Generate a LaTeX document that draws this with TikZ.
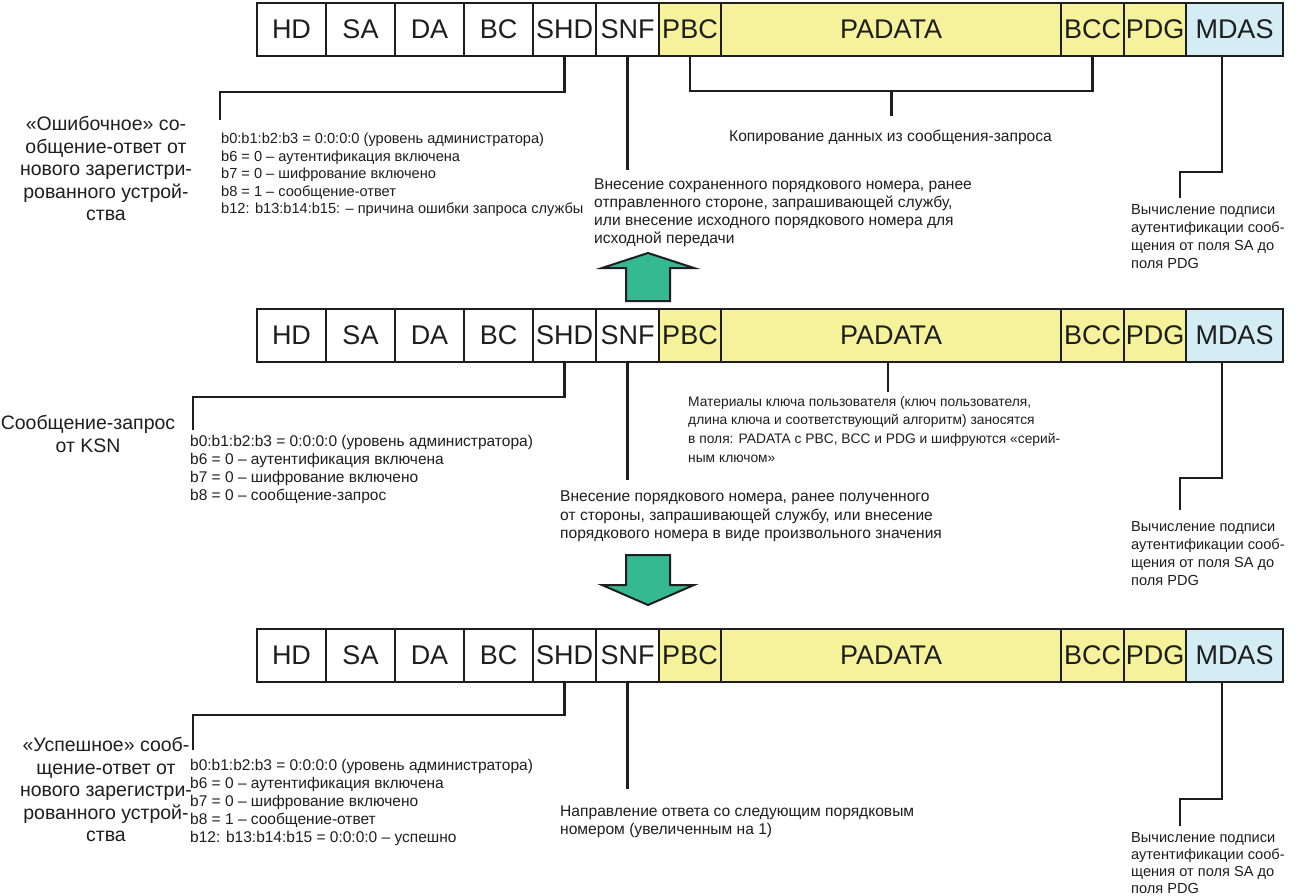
\documentclass[tikz,border=0pt]{standalone}
\usepackage{fontspec}
\setmainfont{Liberation Sans}
\usetikzlibrary{calc}
\definecolor{ink}{RGB}{30,30,30}
\definecolor{cellyellow}{RGB}{245,242,155}
\definecolor{cellblue}{RGB}{212,236,244}
\definecolor{arrowgreen}{RGB}{52,185,145}
\newcommand\msgrow[2]{%
  \node[cell, fill=white, minimum width=69] (#1HD) at (257,#2) {HD};
  \node[cell, fill=white, minimum width=69] (#1SA) at (326,#2) {SA};
  \node[cell, fill=white, minimum width=69] (#1DA) at (395,#2) {DA};
  \node[cell, fill=white, minimum width=69] (#1BC) at (464,#2) {BC};
  \node[cell, fill=white, minimum width=63] (#1SHD) at (533,#2) {SHD};
  \node[cell, fill=white, minimum width=63] (#1SNF) at (596,#2) {SNF};
  \node[cell, fill=cellyellow, minimum width=62] (#1PBC) at (659,#2) {PBC};
  \node[cell, fill=cellyellow, minimum width=340] (#1PADATA) at (721,#2) {PADATA};
  \node[cell, fill=cellyellow, minimum width=63] (#1BCC) at (1061,#2) {BCC};
  \node[cell, fill=cellyellow, minimum width=62] (#1PDG) at (1124,#2) {PDG};
  \node[cell, fill=cellblue, minimum width=97] (#1MDAS) at (1186,#2) {MDAS};
}
\begin{document}
\begin{tikzpicture}[x=1pt,y=-1pt,
  cell/.style={draw=ink, line width=2.8pt, minimum height=53, inner sep=0, outer sep=0, anchor=north west, font=\fontsize{27}{27}\selectfont, text=ink},
  conn/.style={draw=ink, line width=2.6pt},
  lbl/.style={align=center, inner sep=0, anchor=north, text=ink, font=\fontsize{19.5}{22.5}\selectfont},
  desc/.style={align=left, inner sep=0, anchor=north west, text=ink, font=\fontsize{15.6}{18}\selectfont},
  sig/.style={desc, font=\fontsize{14.6}{18}\selectfont},
  bits/.style={desc, font=\fontsize{15.5}{18}\selectfont},
  bigarrow/.style={fill=arrowgreen, draw=ink, line width=2pt, line join=miter}]
\useasboundingbox[fill=white] (0,0) rectangle (1296,896);

% ---------------- rows
\msgrow{a}{3}
\msgrow{b}{309}
\msgrow{c}{629}

% ---------------- row 1 texts
\node[lbl] (alabel) at (106,116) {«Ошибочное» со-\\общение-ответ от\\нового зарегистри-\\рованного устрой-\\ства};
\node[bits, font=\fontsize{14.6}{17.5}\selectfont] (abits) at (221,133) {b0:b1:b2:b3 = 0:0:0:0 (уровень администратора)\\b6 = 0 – аутентификация включена\\b7 = 0 – шифрование включено\\b8 = 1 – сообщение-ответ\\b12: b13:b14:b15: – причина ошибки запроса службы};
\node[desc] (acopy) at (729,130) {Копирование данных из сообщения-запроса};
\node[desc] (asnf) at (594,179) {Внесение сохраненного порядкового номера, ранее\\отправленного стороне, запрашивающей службу,\\или внесение исходного порядкового номера для\\исходной передачи};
\node[sig] (amdas) at (1131,204) {Вычисление подписи\\аутентификации сооб-\\щения от поля SA до\\поля PDG};

% ---------------- row 1 connectors
\coordinate (e1shd) at (220,120);
\draw[conn] (aSHD.south) -- ++(0,36) -| (e1shd);
\coordinate (e1snf) at ($(aSNF.south)+(0,114)$);
\draw[conn] (aSNF.south) -- (e1snf);
\draw[conn] (aPBC.south) -- ++(0,35) -| (aBCC.south);
\coordinate (e1cpy) at ($(aPBC.south)!0.5!(aBCC.south)+(0,60)$);
\draw[conn] ($(aPBC.south)!0.5!(aBCC.south)+(0,35)$) -- (e1cpy);
\coordinate (e1mdas) at (1180,198);
\draw[conn] ([xshift=-12.5]aMDAS.south) -- ++(0,116) -| (e1mdas);

% ---------------- arrow up
\draw[bigarrow] (626,301) -- (626,268) -- (602,268) -- (648,253) -- (694,268) -- (670,268) -- (670,301) -- cycle;

% ---------------- row 2 texts
\node[lbl] (blabel) at (88,415) {Сообщение-запрос\\от KSN};
\node[bits] (bbits) at (190,435) {b0:b1:b2:b3 = 0:0:0:0 (уровень администратора)\\b6 = 0 – аутентификация включена\\b7 = 0 – шифрование включено\\b8 = 0 – сообщение-запрос};
\node[desc, font=\fontsize{13.8}{18.7}\selectfont] (bpad) at (688,396) {Материалы ключа пользователя (ключ пользователя,\\длина ключа и соответствующий алгоритм) заносятся\\в поля: PADATA с PBC, BCC и PDG и шифруются «серий-\\ным ключом»};
\node[desc, font=\fontsize{15.6}{18.5}\selectfont] (bsnf) at (560,491) {Внесение порядкового номера, ранее полученного\\от стороны, запрашивающей службу, или внесение\\порядкового номера в виде произвольного значения};
\node[sig] (bmdas) at (1131,521) {Вычисление подписи\\аутентификации сооб-\\щения от поля SA до\\поля PDG};

% ---------------- row 2 connectors
\coordinate (e2shd) at (193,430);
\draw[conn] (bSHD.south) -- ++(0,35) -| (e2shd);
\coordinate (e2snf) at ($(bSNF.south)+(0,118)$);
\draw[conn] (bSNF.south) -- (e2snf);
\coordinate (e2pad) at ($(bPADATA.south)+(-3,30)$);
\draw[conn] ([xshift=-3]bPADATA.south) -- (e2pad);
\coordinate (e2mdas) at (1180,510);
\draw[conn] ([xshift=-12.5]bMDAS.south) -- ++(0,116) -| (e2mdas);

% ---------------- arrow down
\draw[bigarrow] (626,555) -- (670,555) -- (670,585) -- (694,585) -- (648,605) -- (602,585) -- (626,585) -- cycle;

% ---------------- row 3 texts
\node[lbl] (clabel) at (106,737) {«Успешное» сооб-\\щение-ответ от\\нового зарегистри-\\рованного устрой-\\ства};
\node[bits] (cbits) at (190,759) {b0:b1:b2:b3 = 0:0:0:0 (уровень администратора)\\b6 = 0 – аутентификация включена\\b7 = 0 – шифрование включено\\b8 = 1 – сообщение-ответ\\b12: b13:b14:b15 = 0:0:0:0 – успешно};
\node[desc] (csnf) at (560,806) {Направление ответа со следующим порядковым\\номером (увеличенным на 1)};
\node[sig, font=\fontsize{14.6}{17}\selectfont] (cmdas) at (1131,832) {Вычисление подписи\\аутентификации сооб-\\щения от поля SA до\\поля PDG};

% ---------------- row 3 connectors
\coordinate (e3shd) at (193,750);
\draw[conn] (cSHD.south) -- ++(0,33) -| (e3shd);
\coordinate (e3snf) at ($(cSNF.south)+(0,107)$);
\draw[conn] (cSNF.south) -- (e3snf);
\coordinate (e3mdas) at (1180,826);
\draw[conn] ([xshift=-12.5]cMDAS.south) -- ++(0,117) -| (e3mdas);
\end{tikzpicture}
\end{document}
